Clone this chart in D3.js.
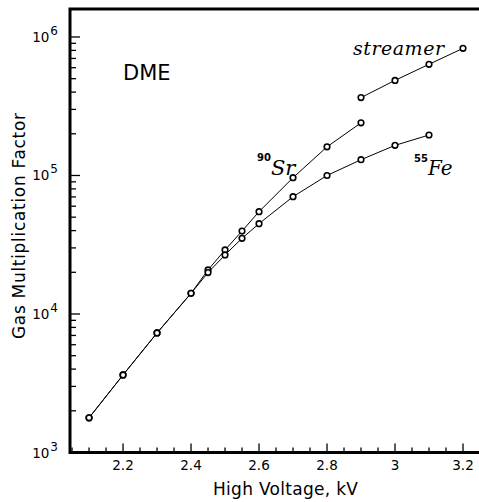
<!DOCTYPE html>
<html>
<head>
<meta charset="utf-8">
<script src="https://cdn.jsdelivr.net/npm/d3@7"></script>
<style>
  body { margin: 0; background: #fff; }
  svg { display: block; }
  .tick-label { font-family: "DejaVu Sans", sans-serif; font-size: 13.5px; }
  .axis-label { font-family: "DejaVu Sans", sans-serif; font-size: 17px; }
  .math { font-family: "DejaVu Serif", serif; font-style: italic; }
</style>
</head>
<body>
<div id="chart"></div>
<script>
// high voltage (kV) and gas gain
const voltSr = [2.1, 2.2, 2.3, 2.4, 2.45, 2.5, 2.55, 2.6, 2.7, 2.8, 2.9];
const gainSr = [1780, 3630, 7300, 14100, 20800, 29000, 39700, 54800, 96400, 161000, 240000];

const voltFe = [2.1, 2.2, 2.3, 2.4, 2.45, 2.5, 2.55, 2.6, 2.7, 2.8, 2.9, 3.0, 3.1];
const gainFe = [1780, 3630, 7300, 14100, 19900, 26700, 35200, 44900, 70300, 100000, 130000, 165000, 196000];

const voltStreamer = [2.9, 3.0, 3.1, 3.2];
const gainStreamer = [365000, 486000, 635000, 828000];

const xTicks = [2.2, 2.4, 2.6, 2.8, 3, 3.2];
const yDecades = [3, 4, 5, 6];

const W = 479, H = 502;
const plotLeft = 70, plotTop = 9, plotBottom = 452.5, plotRight = 480;

const svg = d3.select("#chart").append("svg")
    .attr("width", W)
    .attr("height", H);

const x = d3.scaleLinear().domain([2.044, 3.25]).range([plotLeft, plotRight]);
const y = d3.scaleLog().domain([1000, Math.pow(10, 6.202)]).range([plotBottom, plotTop]);

// ticks, pointing inward
const xMinor = d3.range(2.05, 3.26, 0.05).filter(v => x(v) > plotLeft + 1 && x(v) < W);
svg.append("g").selectAll("line")
    .data(xMinor)
    .join("line")
    .attr("x1", d => x(d)).attr("x2", d => x(d))
    .attr("y1", plotBottom)
    .attr("y2", d => xTicks.some(t => Math.abs(t - d) < 1e-6) ? plotBottom - 9 : plotBottom - 5)
    .attr("stroke", "#000").attr("stroke-width", 1.3);

const yMinor = [];
yDecades.forEach(e => {
    for (let k = 1; k < 10; k++) {
        const v = k * Math.pow(10, e);
        if (y(v) >= plotTop) yMinor.push({ v, major: k === 1 });
    }
});
svg.append("g").selectAll("line")
    .data(yMinor)
    .join("line")
    .attr("x1", plotLeft).attr("x2", d => d.major ? plotLeft + 10 : plotLeft + 6)
    .attr("y1", d => y(d.v)).attr("y2", d => y(d.v))
    .attr("stroke", "#000").attr("stroke-width", 1.3);

// frame: left, bottom, top
svg.append("path")
    .attr("d", `M${W},${plotBottom}H${plotLeft}V${plotTop}H${W}`)
    .attr("fill", "none")
    .attr("stroke", "#000")
    .attr("stroke-width", 3);

// tick labels
svg.append("g").selectAll("text")
    .data(xTicks)
    .join("text")
    .attr("class", "tick-label")
    .attr("x", d => x(d))
    .attr("y", plotBottom + 17)
    .attr("text-anchor", "middle")
    .text(d => d);

const yl = svg.append("g").selectAll("text")
    .data(yDecades)
    .join("text")
    .attr("class", "tick-label")
    .attr("x", plotLeft - 12)
    .attr("y", d => y(Math.pow(10, d)) + 5)
    .attr("text-anchor", "end");
yl.append("tspan").text("10");
yl.append("tspan").attr("dx", 1).attr("dy", -7).attr("font-size", 12).text(d => d);

// axis titles
svg.append("text")
    .attr("class", "axis-label")
    .attr("x", 213)
    .attr("y", 495)
    .attr("textLength", 145)
    .text("High Voltage, kV");

svg.append("text")
    .attr("class", "axis-label")
    .attr("transform", "rotate(-90)")
    .attr("x", -339)
    .attr("y", 25)
    .attr("textLength", 226)
    .text("Gas Multiplication Factor");

// curves
const line = d3.line().x(d => x(d[0])).y(d => y(d[1]));
const series = [
    d3.zip(voltSr, gainSr),
    d3.zip(voltFe, gainFe),
    d3.zip(voltStreamer, gainStreamer)
];

series.forEach(s => {
    svg.append("path")
        .datum(s)
        .attr("d", line)
        .attr("fill", "none")
        .attr("stroke", "#000")
        .attr("stroke-width", 1);
});
series.forEach(s => {
    svg.append("g").selectAll("circle")
        .data(s)
        .join("circle")
        .attr("cx", d => x(d[0]))
        .attr("cy", d => y(d[1]))
        .attr("r", 2.8)
        .attr("fill", "#fff")
        .attr("stroke", "#000")
        .attr("stroke-width", 1.6);
});

// labels in the plot
svg.append("text")
    .attr("x", 123)
    .attr("y", 80)
    .attr("font-family", "DejaVu Sans, sans-serif")
    .attr("font-size", 21)
    .text("DME");

svg.append("text")
    .attr("class", "math")
    .attr("x", 353)
    .attr("y", 55)
    .attr("font-size", 19)
    .attr("textLength", 91)
    .text("streamer");

const sr = svg.append("text").attr("x", 257).attr("y", 175);
sr.append("tspan").attr("font-family", "DejaVu Sans, sans-serif").attr("font-weight", "bold")
    .attr("font-size", 10).attr("dy", -14).text("90");
sr.append("tspan").attr("class", "math").attr("font-size", 21).attr("dy", 14).text("Sr");

const fe = svg.append("text").attr("x", 414).attr("y", 175);
fe.append("tspan").attr("font-family", "DejaVu Sans, sans-serif").attr("font-weight", "bold")
    .attr("font-size", 10).attr("dy", -13).text("55");
fe.append("tspan").attr("class", "math").attr("font-size", 20).attr("dy", 13).text("Fe");
</script>
</body>
</html>
